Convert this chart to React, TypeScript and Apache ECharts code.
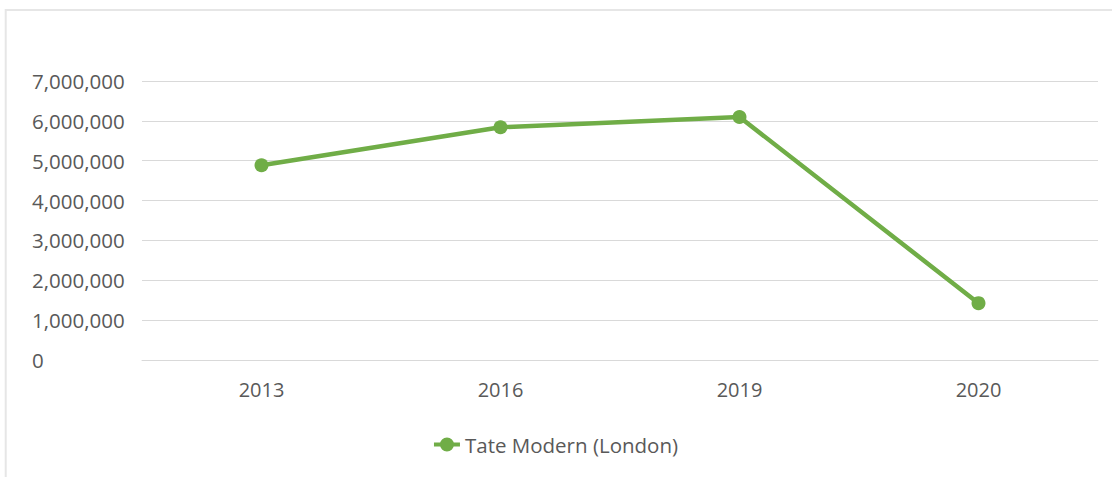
import React, { useEffect, useRef } from "react";
import * as echarts from "echarts";

const categories = ["2013", "2016", "2019", "2020"];
const seriesName = "Tate Modern (London)";
const visitors = [4885000, 5840000, 6098000, 1426000];

export default function App() {
  const ref = useRef<HTMLDivElement>(null);
  useEffect(() => {
    if (!ref.current) return;
    const chart = echarts.init(ref.current, null, { renderer: "svg" });
    const font = "'Open Sans', 'Noto Sans', sans-serif";
    const legendIcon =
      "path://M0,5h26v4h-26z M6,7a7,7 0 1,1 14,0a7,7 0 1,1 -14,0z";
    chart.setOption({
      animation: false,
      backgroundColor: "#ffffff",
      textStyle: { fontFamily: font },
      graphic: [
        {
          type: "rect",
          shape: { x: 5.7, y: 10, width: 1200, height: 600 },
          style: { fill: "none", stroke: "#e6e6e6", lineWidth: 2 },
          silent: true,
        },
      ],
      grid: { left: 142, right: 14, top: 81, bottom: 117, containLabel: false },
      xAxis: {
        type: "category",
        data: categories,
        boundaryGap: true,
        axisLine: { show: true, lineStyle: { color: "#d9d9d9", width: 1 } },
        axisTick: { show: false },
        axisLabel: { color: "#595959", fontSize: 20, margin: 19, fontFamily: font },
      },
      yAxis: {
        type: "value",
        min: 0,
        max: 7000000,
        interval: 1000000,
        axisLine: { show: false },
        axisTick: { show: false },
        splitLine: { lineStyle: { color: "#d9d9d9", width: 1 } },
        axisLabel: {
          color: "#595959",
          fontSize: 20.5,
          align: "left",
          margin: 110,
          fontFamily: font,
          formatter: (v: number) => v.toLocaleString("en-US"),
        },
      },
      legend: {
        top: 429,
        left: "center",
        itemWidth: 26,
        itemHeight: 14,
        itemGap: 10,
        textStyle: { color: "#595959", fontSize: 20.5, fontFamily: font },
        data: [{ name: seriesName, icon: legendIcon, itemStyle: { color: "#70ad47" } }],
      },
      series: [
        {
          name: seriesName,
          type: "line",
          data: visitors,
          symbol: "circle",
          symbolSize: 14,
          lineStyle: { color: "#70ad47", width: 4.5 },
          itemStyle: { color: "#70ad47" },
        },
      ],
    });
    return () => chart.dispose();
  }, []);
  return (
    <div
      ref={ref}
      style={{ position: "absolute", left: 0, top: 0, width: 1112, height: 477 }}
    />
  );
}
